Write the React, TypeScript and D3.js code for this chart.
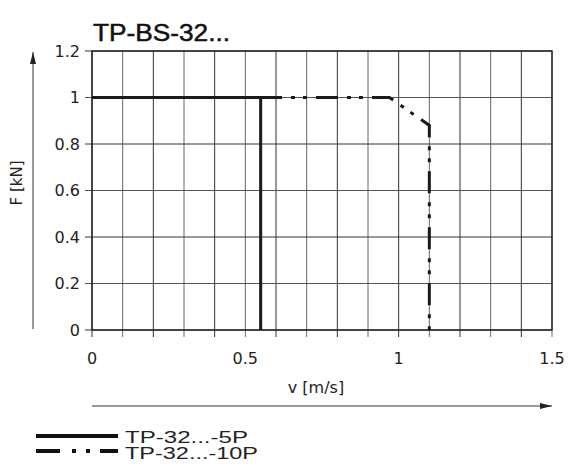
import React from "react";
import * as d3 from "d3";

// Force limit curves F(v) for the two TP-32 variants
const velocity5P = [0, 0.55, 0.55];
const force5P = [1, 1, 0];
const velocity10P = [0, 0.97, 1.1, 1.1];
const force10P = [1, 1, 0.88, 0];

const xTicks = [0, 0.5, 1, 1.5];
const yTicks = [0, 0.2, 0.4, 0.6, 0.8, 1, 1.2];
const xGrid = d3.range(0, 16).map((i) => i / 10);

const title = "TP-BS-32...";
const xLabel = "v [m/s]";
const yLabel = "F [kN]";
const legendLabels = ["TP-32...-5P", "TP-32...-10P"];

const W = 570;
const H = 476;
const left = 92;
const right = 552;
const top = 51;
const bottom = 330;

const x = d3.scaleLinear().domain([0, 1.5]).range([left, right]);
const y = d3.scaleLinear().domain([0, 1.2]).range([bottom, top]);

const dashDotDot = "22 9 4 8 4 9";
const tickFont = "'DejaVu Sans', sans-serif";
const textFont = "'Liberation Sans', Arial, sans-serif";

export default function App() {
  const line = d3
    .line<[number, number]>()
    .x((d) => x(d[0]))
    .y((d) => y(d[1]));
  const pts5 = velocity5P.map((v, i) => [v, force5P[i]] as [number, number]);
  const pts10 = velocity10P.map((v, i) => [v, force10P[i]] as [number, number]);

  return (
    <svg width={W} height={H} style={{ position: "absolute", left: 0, top: 0, background: "#fff" }}>
      <defs>
        <marker id="arrow" viewBox="0 0 12 6" refX="12" refY="3" markerWidth="12" markerHeight="6" markerUnits="userSpaceOnUse" orient="auto">
          <path d="M0,0 L12,3 L0,6 Z" fill="#222" />
        </marker>
      </defs>

      <text x={93} y={40.5} fontFamily={textFont} fontSize={23.5} fill="#111" stroke="#111" strokeWidth={0.5} textLength={137} lengthAdjust="spacingAndGlyphs">
        {title}
      </text>

      {/* grid */}
      {xGrid.map((v, i) => (
        <line key={"gx" + i} x1={x(v)} x2={x(v)} y1={top} y2={bottom + 7} stroke={i % 2 ? "#666" : "#333"} strokeWidth={1} />
      ))}
      {yTicks.map((v, i) => (
        <line key={"gy" + i} x1={left - 7} x2={right} y1={y(v)} y2={y(v)} stroke={i % 2 ? "#555" : "#333"} strokeWidth={1} />
      ))}
      <rect x={left} y={top} width={right - left} height={bottom - top} fill="none" stroke="#222" strokeWidth={1.4} />

      {/* tick labels */}
      {yTicks.map((v) => (
        <text key={"ty" + v} x={left - 12} y={y(v)} dy="0.36em" textAnchor="end" fontFamily={tickFont} fontSize={16} fill="#222">
          {String(v)}
        </text>
      ))}
      {xTicks.map((v) => (
        <text key={"tx" + v} x={x(v)} y={364} textAnchor="middle" fontFamily={tickFont} fontSize={16} fill="#222">
          {String(v)}
        </text>
      ))}

      <text x={316} y={393} textAnchor="middle" fontFamily={tickFont} fontSize={16} fill="#222">
        {xLabel}
      </text>
      <text transform={`translate(22, 183) rotate(-90)`} textAnchor="middle" fontFamily={tickFont} fontSize={15} fill="#222">
        {yLabel}
      </text>

      {/* direction arrows */}
      <line x1={33} x2={33} y1={329} y2={52} stroke="#777" strokeWidth={1.5} markerEnd="url(#arrow)" />
      <line x1={left} x2={right} y1={406} y2={406} stroke="#777" strokeWidth={1.5} markerEnd="url(#arrow)" />

      {/* curves */}
      <path d={line(pts10) ?? ""} fill="none" stroke="#1a1a1a" strokeWidth={3} strokeDasharray={dashDotDot} />
      <path d={line(pts5) ?? ""} fill="none" stroke="#1a1a1a" strokeWidth={3} />

      {/* legend */}
      <line x1={36} x2={118} y1={436} y2={436} stroke="#111" strokeWidth={4} />
      <text x={125} y={437} dy="0.35em" fontFamily={textFont} fontSize={16} fill="#222" textLength={123} lengthAdjust="spacingAndGlyphs">
        {legendLabels[0]}
      </text>
      <line x1={36} x2={118} y1={451} y2={451} stroke="#111" strokeWidth={4} strokeDasharray="24 12 4 10 4 10 24" />
      <text x={125} y={453} dy="0.35em" fontFamily={textFont} fontSize={16} fill="#222" textLength={133} lengthAdjust="spacingAndGlyphs">
        {legendLabels[1]}
      </text>
    </svg>
  );
}
